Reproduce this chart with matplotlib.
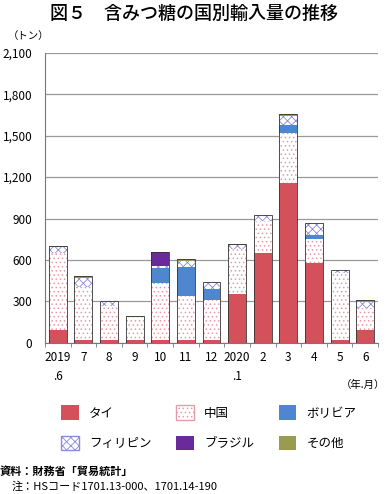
import numpy as np
import matplotlib.pyplot as plt
from matplotlib.patches import Patch

plt.rcParams['font.family'] = ['Noto Sans CJK JP', 'DejaVu Sans']
plt.rcParams['hatch.linewidth'] = 0.6

months = ["2019\n.6", "7", "8", "9", "10", "11", "12", "2020\n.1", "2", "3", "4", "5", "6"]
thai = [90, 20, 20, 20, 20, 20, 20, 355, 650, 1155, 580, 20, 90]
china = [560, 385, 250, 165, 410, 320, 290, 325, 235, 365, 175, 485, 165]
bolivia = [0, 0, 0, 0, 110, 210, 80, 0, 0, 55, 25, 0, 0]
philippines = [45, 65, 35, 0, 15, 45, 50, 30, 40, 65, 85, 25, 40]
brazil = [0, 0, 0, 0, 105, 0, 0, 0, 0, 0, 0, 0, 0]
other = [5, 15, 0, 10, 0, 15, 0, 5, 0, 15, 0, 0, 15]

fig = plt.figure(figsize=(3.87, 4.94), dpi=100)
ax = fig.add_axes([0.116, 0.306, 0.861, 0.587])

x = np.arange(len(months))
w = 0.7
bottom = np.zeros(len(months))

# タイ
ax.bar(x, thai, w, bottom=bottom, color='#d4505a', lw=0, zorder=3)
bottom += thai
# 中国: pink dots on white
ax.bar(x, china, w, bottom=bottom, color='white', edgecolor='#e89aa8', hatch='....', lw=0, zorder=3)
bottom += china
# ボリビア
ax.bar(x, bolivia, w, bottom=bottom, color='#4f86d0', lw=0, zorder=3)
bottom += bolivia
# フィリピン
ax.bar(x, philippines, w, bottom=bottom, color='white', edgecolor='#8a8ad8', hatch='xxxx', lw=0, zorder=3)
bottom += philippines
# ブラジル
ax.bar(x, brazil, w, bottom=bottom, color='#6a2a9a', lw=0, zorder=3)
bottom += brazil
# その他
ax.bar(x, other, w, bottom=bottom, color='#9a9a50', lw=0, zorder=3)
bottom += other
# outline of stacks
ax.bar(x, bottom, w, fill=False, edgecolor='#333333', lw=0.6, zorder=4)

ax.set_xlim(-0.5, len(months) - 0.5)
ax.set_ylim(0, 2100)
ax.set_yticks(np.arange(0, 2101, 300))
ax.set_yticklabels([f"{v:,}" for v in range(0, 2101, 300)], fontsize=8.5)
ax.yaxis.grid(True, color='#999999', lw=0.9, zorder=0)
ax.tick_params(axis='y', length=0, pad=9)
ax.set_xticks(x)
ax.set_xticklabels(months, fontsize=8.5, linespacing=1.6, va='top')
ax.tick_params(axis='x', length=0, pad=6)
ax.set_xticks(np.arange(-0.5, len(months)), minor=True)
ax.tick_params(axis='x', which='minor', length=3, color='#777777')
for s in ['top', 'right']:
    ax.spines[s].set_visible(False)
ax.spines['left'].set_color('#777777')
ax.spines['bottom'].set_color('#777777')

fig.text(0.5, 0.972, "図５　含みつ糖の国別輸入量の推移", ha='center', va='center', fontsize=13, fontweight='medium')
fig.text(0.02, 0.928, "（トン）", ha='left', va='center', fontsize=7.5)
fig.text(0.995, 0.22, "（年.月）", ha='right', va='center', fontsize=7.5)

handles = [
    Patch(facecolor='#d4505a', label='タイ'),
    Patch(facecolor='white', edgecolor='#8a8ad8', hatch='xxxx', label='フィリピン'),
    Patch(facecolor='white', edgecolor='#e89aa8', hatch='....', label='中国'),
    Patch(facecolor='#6a2a9a', label='ブラジル'),
    Patch(facecolor='#4f86d0', label='ボリビア'),
    Patch(facecolor='#9a9a50', label='その他'),
]
fig.legend(handles=handles, ncol=3, loc='center', bbox_to_anchor=(0.54, 0.134),
           frameon=False, fontsize=9, handlelength=1.4, handleheight=1.4,
           columnspacing=2.0, labelspacing=1.3, handletextpad=0.8)

fig.text(0.0, 0.045, "資料：財務省「貿易統計」", ha='left', va='center', fontsize=8, fontweight='bold')
fig.text(0.03, 0.015, "注：HSコード1701.13-000、1701.14-190", ha='left', va='center', fontsize=8)

fig.savefig("out.png", dpi=100)
